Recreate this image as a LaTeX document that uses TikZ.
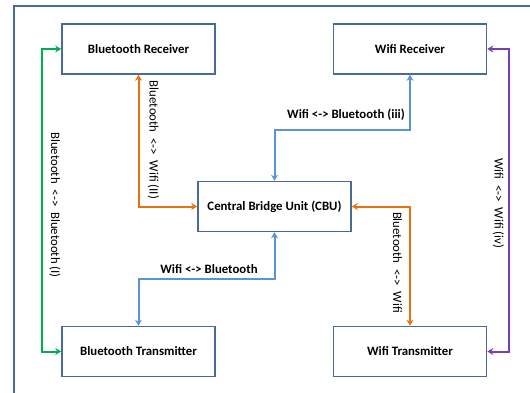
\documentclass[tikz,border=0pt]{standalone}
\usepackage{fontspec}
\setmainfont{Carlito}
\usetikzlibrary{arrows.meta}
\definecolor{frameblue}{HTML}{4A6A9C}
\definecolor{cgreen}{HTML}{00B050}
\definecolor{corange}{HTML}{E8720C}
\definecolor{cblue}{HTML}{5A93DA}
\definecolor{cpurple}{HTML}{7A3EB0}
\tikzset{
  box/.style={draw=frameblue, line width=1.6pt, minimum width=153pt, minimum height=50pt,
    inner sep=0pt, font=\fontsize{12.8}{14}\selectfont\bfseries},
  conn/.style={line width=2pt, {Stealth[length=6pt,width=7pt,inset=2pt]}-{Stealth[length=6pt,width=7pt,inset=2pt]}},
  vlabel/.style={rotate=-90, inner sep=0pt, font=\fontsize{12.8}{14}\selectfont},
  hlabel/.style={inner sep=0pt, font=\fontsize{12.8}{14}\selectfont\bfseries},
}
\begin{document}
\begin{tikzpicture}[x=1pt,y=-1pt]
\useasboundingbox (0,0) rectangle (530,392);
% outer frame (partially visible)
\draw[frameblue, line width=2pt] (531,6) -- (13.5,6) -- (13.5,393);
% boxes
\node[box] (btr) at (138.5,49) {Bluetooth Receiver};
\node[box] (wfr) at (410,49) {Wifi Receiver};
\node[box] (cbu) at (274.5,206.5) {Central Bridge Unit (CBU)};
\node[box] (btt) at (138.5,351.5) {Bluetooth Transmitter};
\node[box] (wft) at (410,351.5) {Wifi Transmitter};
% helper coordinates
\coordinate (g1) at (41.5,49);
\coordinate (p1) at (509,49);
\coordinate (b1) at (410,130);
\coordinate (b2) at (274.5,278.5);
% connectors
\draw[conn, cgreen] (btr.west) -- (g1) |- (btt.west);
\draw[conn, cpurple] (wfr.east) -- (p1) |- (wft.east);
\draw[conn, corange] (btr.south) |- (cbu.west);
\draw[conn, corange] (cbu.east) -| (wft.north);
\draw[conn, cblue] (wfr.south) -- (b1) -| (cbu.north);
\draw[conn, cblue] (cbu.south) -- (b2) -| (btt.north);
% labels
\node[vlabel] (lg) at (55,205) {Bluetooth \ <-> \ Bluetooth (I)};
\node[vlabel] (lo1) at (153.5,140) {Bluetooth \ <-> \ Wifi (II)};
\node[vlabel] (lo2) at (397.5,262.5) {Bluetooth \ <-> \ Wifi};
\node[vlabel] (lp) at (498.5,203.5) {Wifi \ <-> \ Wifi (iv)};
\node[hlabel] (lb1) at (346,115) {Wifi <-> Bluetooth (iii)};
\node[hlabel] (lb2) at (209,269.5) {Wifi <-> Bluetooth};
\end{tikzpicture}
\end{document}
